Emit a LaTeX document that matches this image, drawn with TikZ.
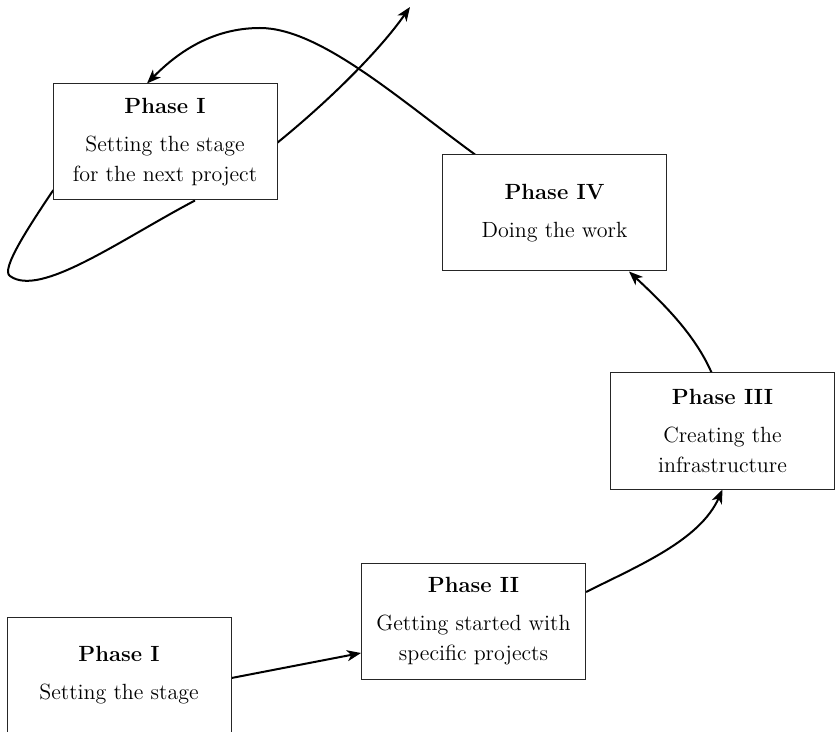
\documentclass[tikz,border=0pt]{standalone}
\usetikzlibrary{arrows.meta,backgrounds,calc}
\begin{document}
\begin{tikzpicture}[x=0.5pt,y=-0.5pt,
  phase/.style={draw=black!85,line width=0.5pt,fill=white,minimum width=112pt,
    minimum height=58pt,inner sep=0pt,align=center,font=\fontsize{11}{15}\selectfont},
  conn/.style={line width=1pt,-{Stealth[length=7pt,width=5.5pt,inset=2pt]}}]
\useasboundingbox (0,0) rectangle (835,732);
\node[phase] (p1t) at (165,142) {\textbf{Phase I}\\[4pt]Setting the stage\\for the next project};
\node[phase] (p4) at (554.5,213) {\textbf{Phase IV}\\[4pt]Doing the work};
\node[phase] (p3) at (722.5,431) {\textbf{Phase III}\\[4pt]Creating the\\infrastructure};
\node[phase] (p2) at (473.5,621.5) {\textbf{Phase II}\\[4pt]Getting started with\\specific projects};
\node[phase] (p1b) at (119,675.5) {\textbf{Phase I}\\[4pt]Setting the stage};
\coordinate (nxt) at (410,7);
\begin{scope}[on background layer]
\draw[conn] ($(p1b.east)+(0,2.5)$) -- ($(p2.west)+(0,31.5)$);
\draw[conn] ($(p2.east)+(0,-29.5)$) .. controls (640,565) and (700,540) .. (p3.south);
\draw[conn] ($(p3.north)+(-11,0)$) .. controls (695,335) and (665,305) .. ($(p4.south)+(74.5,0)$);
\draw[conn] ($(p4.north)+(-79.5,0)$) .. controls (400,100) and (320,28) .. (260,28)
  .. controls (210,28) and (175,55) .. ($(p1t.north)+(-18,0)$);
\draw[conn] ($(p1t.south)+(30,0)$) .. controls (120,240) and (40,298) .. (10,276)
  .. controls (0,270) and (30,225) .. (52,192)
  .. controls (74,159) and (237,178) .. (277,143)
  .. controls (330,100) and (380,50) .. (nxt);
\end{scope}
\end{tikzpicture}
\end{document}
